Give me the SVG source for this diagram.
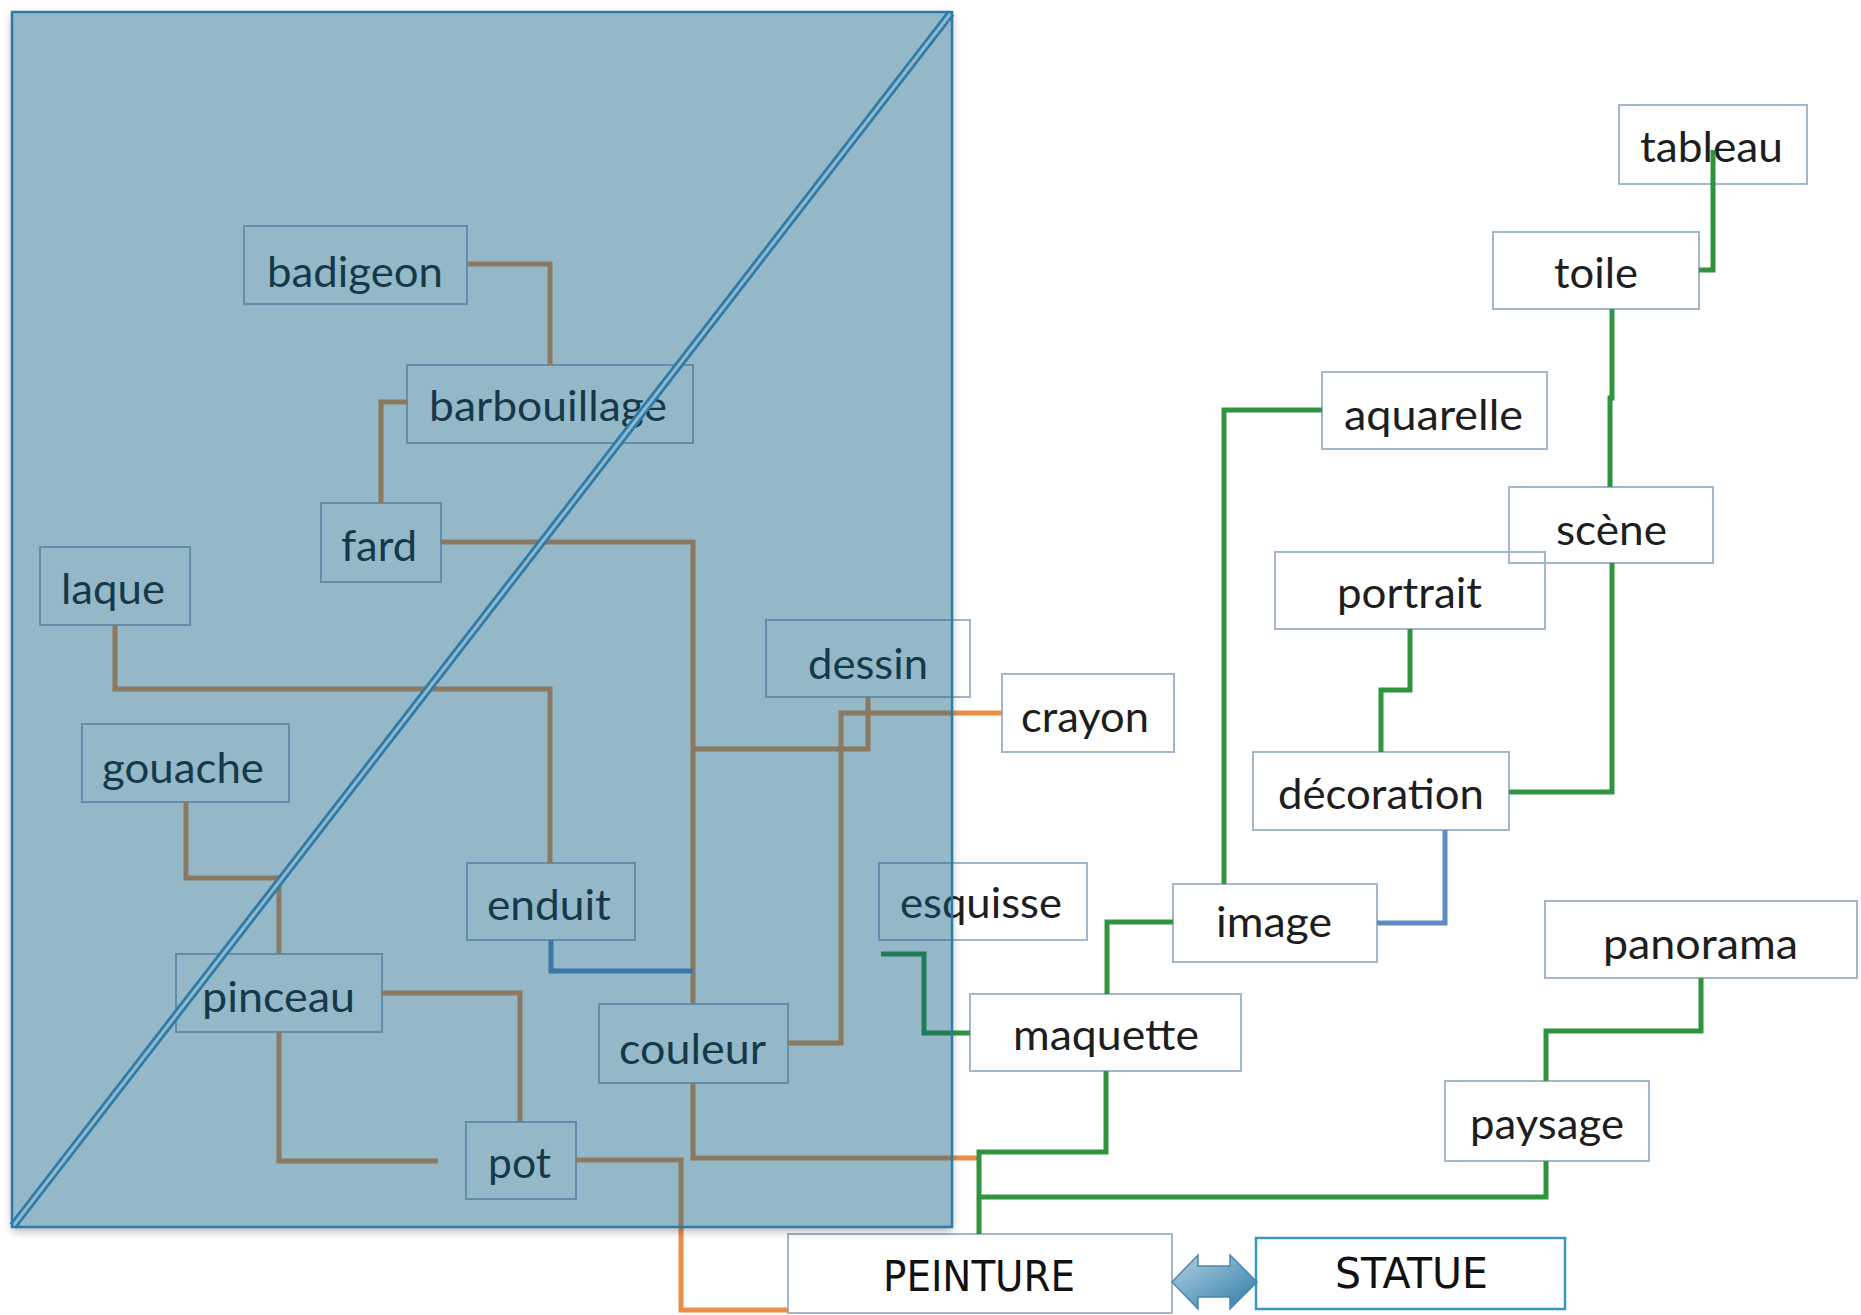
<svg xmlns="http://www.w3.org/2000/svg" width="1861" height="1315" viewBox="0 0 1861 1315">
<style>
.box{fill:#ffffff;stroke:#a3b6cb;stroke-width:2}
.lbl{font-family:Lato,"Open Sans","Liberation Sans",sans-serif;font-size:43px;fill:#1e1e1e}
.cap{font-family:"Liberation Sans Narrow","DejaVu Sans Condensed","Liberation Sans",sans-serif;font-size:42px;fill:#111111;font-stretch:condensed}
.c{fill:none;stroke-width:5;stroke-linejoin:miter;stroke-linecap:butt}
.or{stroke:#ec8d47}
.gr{stroke:#2f933f}
.bl{stroke:#5d8cc2}
</style>
<defs>
<filter id="blur" x="-5%" y="-5%" width="110%" height="110%"><feGaussianBlur stdDeviation="5"/></filter>
<mask id="outside"><rect x="0" y="0" width="1861" height="1315" fill="#fff"/><rect x="12" y="12" width="940" height="1215" fill="#000"/></mask>
<linearGradient id="arrowg" x1="0" y1="0" x2="1" y2="1"><stop offset="0" stop-color="#b3d1e3"/><stop offset="1" stop-color="#2f7aa6"/></linearGradient>
</defs>
<rect x="0" y="0" width="1861" height="1315" fill="#ffffff"/>
<g id="nodes">
<g id="badigeon"><rect class="box" x="244" y="226" width="223" height="78"/><text class="lbl" x="267" y="287" textLength="176" lengthAdjust="spacingAndGlyphs">badigeon</text></g>
<g id="barbouillage"><rect class="box" x="407" y="365" width="286" height="78"/><text class="lbl" x="429" y="421" textLength="238" lengthAdjust="spacingAndGlyphs">barbouillage</text></g>
<g id="fard"><rect class="box" x="321" y="503" width="120" height="79"/><text class="lbl" x="341" y="561" textLength="76" lengthAdjust="spacingAndGlyphs">fard</text></g>
<g id="laque"><rect class="box" x="40" y="547" width="150" height="78"/><text class="lbl" x="61" y="604" textLength="104" lengthAdjust="spacingAndGlyphs">laque</text></g>
<g id="gouache"><rect class="box" x="82" y="724" width="207" height="78"/><text class="lbl" x="102" y="783" textLength="162" lengthAdjust="spacingAndGlyphs">gouache</text></g>
<g id="enduit"><rect class="box" x="467" y="863" width="168" height="77"/><text class="lbl" x="487" y="920" textLength="124" lengthAdjust="spacingAndGlyphs">enduit</text></g>
<g id="pinceau"><rect class="box" x="176" y="954" width="206" height="78"/><text class="lbl" x="202" y="1012" textLength="153" lengthAdjust="spacingAndGlyphs">pinceau</text></g>
<g id="pot"><rect class="box" x="466" y="1122" width="110" height="77"/><text class="lbl" x="488" y="1178" textLength="63" lengthAdjust="spacingAndGlyphs">pot</text></g>
<g id="couleur"><rect class="box" x="599" y="1004" width="189" height="79"/><text class="lbl" x="619" y="1064" textLength="147" lengthAdjust="spacingAndGlyphs">couleur</text></g>
<g id="dessin"><rect class="box" x="766" y="620" width="204" height="77"/><text class="lbl" x="808" y="679" textLength="120" lengthAdjust="spacingAndGlyphs">dessin</text></g>
<g id="crayon"><rect class="box" x="1002" y="674" width="172" height="78"/><text class="lbl" x="1021" y="732" textLength="128" lengthAdjust="spacingAndGlyphs">crayon</text></g>
<g id="esquisse"><rect class="box" x="879" y="863" width="208" height="77"/><text class="lbl" x="900" y="918" textLength="162" lengthAdjust="spacingAndGlyphs">esquisse</text></g>
<g id="maquette"><rect class="box" x="970" y="994" width="271" height="77"/><text class="lbl" x="1013" y="1050" textLength="186" lengthAdjust="spacingAndGlyphs">maquette</text></g>
<g id="image"><rect class="box" x="1173" y="884" width="204" height="78"/><text class="lbl" x="1216" y="937" textLength="116" lengthAdjust="spacingAndGlyphs">image</text></g>
<g id="aquarelle"><rect class="box" x="1322" y="372" width="225" height="77"/><text class="lbl" x="1344" y="430" textLength="179" lengthAdjust="spacingAndGlyphs">aquarelle</text></g>
<g id="tableau"><rect class="box" x="1619" y="105" width="188" height="79"/><text class="lbl" x="1640" y="162" textLength="143" lengthAdjust="spacingAndGlyphs">tableau</text></g>
<g id="toile"><rect class="box" x="1493" y="232" width="206" height="77"/><text class="lbl" x="1554" y="288" textLength="84" lengthAdjust="spacingAndGlyphs">toile</text></g>
<g id="portrait"><rect class="box" x="1275" y="552" width="270" height="77"/><text class="lbl" x="1337" y="608" textLength="145" lengthAdjust="spacingAndGlyphs">portrait</text></g>
<g id="scene"><rect class="box" x="1509" y="487" width="204" height="76" fill-opacity="0"/><text class="lbl" x="1556" y="545" textLength="111" lengthAdjust="spacingAndGlyphs">scène</text></g>
<g id="decoration"><rect class="box" x="1253" y="752" width="256" height="78"/><text class="lbl" x="1278" y="809" textLength="206" lengthAdjust="spacingAndGlyphs">décoration</text></g>
<g id="panorama"><rect class="box" x="1545" y="901" width="312" height="77"/><text class="lbl" x="1603" y="959" textLength="195" lengthAdjust="spacingAndGlyphs">panorama</text></g>
<g id="paysage"><rect class="box" x="1445" y="1081" width="204" height="80"/><text class="lbl" x="1470" y="1139" textLength="154" lengthAdjust="spacingAndGlyphs">paysage</text></g>
<g id="peinture"><rect class="box" x="788" y="1234" width="384" height="79"/><text class="cap" x="883" y="1291" textLength="192" lengthAdjust="spacingAndGlyphs">PEINTURE</text></g>
<g id="statue"><rect x="1256" y="1238" width="309" height="71" fill="#ffffff" stroke="#3597c2" stroke-width="2.5"/><text class="cap" x="1335" y="1288" textLength="153" lengthAdjust="spacingAndGlyphs">STATUE</text></g>
</g>
<g id="connectors">
<path class="c or" d="M467,264 H550 V365"/>
<path class="c or" d="M407,402 H381 V503"/>
<path class="c or" d="M441,542 H693 V1004"/>
<path class="c or" d="M115,625 V689 H550 V863"/>
<path class="c or" d="M186,802 V878 H279 V954"/>
<path class="c or" d="M382,993 H520 V1122"/>
<path class="c or" d="M279,1032 V1161 H438"/>
<path class="c or" d="M576,1160 H681 V1310 H788"/>
<path class="c or" d="M868,697 V749 H693"/>
<path class="c or" d="M1002,713 H841 V1043 H788"/>
<path class="c or" d="M693,1083 V1158 H979"/>
<path class="c bl" d="M551,940 V971 H693"/>
<path class="c bl" d="M1445,830 V923 H1377"/>
<path class="c gr" d="M881,954 H924 V1033 H970"/>
<path class="c gr" d="M1173,922 H1107 V994"/>
<path class="c gr" d="M1322,410 H1224 V884"/>
<path class="c gr" d="M1713,150 V270 H1699"/>
<path class="c gr" d="M1612,309 V398 H1610 V487"/>
<path class="c gr" d="M1410,629 V690 H1381 V752"/>
<path class="c gr" d="M1612,563 V792 H1509"/>
<path class="c gr" d="M1701,978 V1031 H1546 V1081"/>
<path class="c gr" d="M1546,1161 V1197 H979"/>
<path class="c gr" d="M1106,1071 V1152 H979 V1234"/>
<path id="double-arrow" d="M1172,1282 L1198,1255 V1266 H1230 V1255 L1257,1282 L1230,1309 V1297 H1198 V1309 Z" fill="url(#arrowg)" stroke="#4a87ad" stroke-width="1.5"/>
</g>
<g id="overlay">
<rect x="12" y="16" width="940" height="1215" fill="#000" opacity="0.3" filter="url(#blur)" mask="url(#outside)"/>
<rect x="12" y="12" width="940" height="1215" fill="#0e5d82" fill-opacity="0.44"/>
<line x1="13" y1="1226" x2="951" y2="13" stroke="#2b7caa" stroke-width="8.5"/>
<line x1="13" y1="1226" x2="951" y2="13" stroke="#95b8c9" stroke-width="3"/>
<rect x="12" y="12" width="940" height="1215" fill="none" stroke="#2b7caa" stroke-width="2.5"/>
</g>
</svg>
